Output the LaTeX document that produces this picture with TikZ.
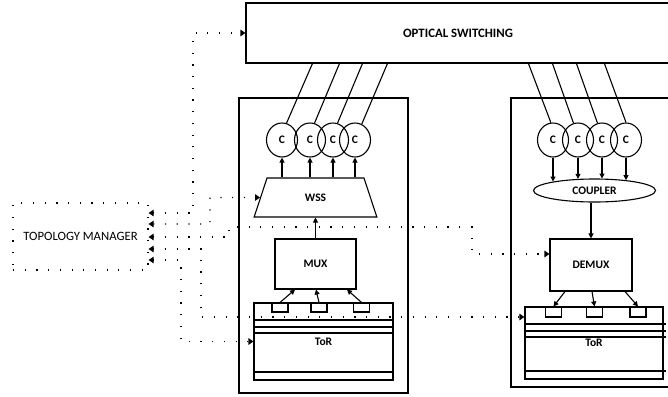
\documentclass[tikz,border=0pt]{standalone}
\usepackage{fontspec}
\setmainfont{Carlito}
\usetikzlibrary{arrows.meta,shapes.geometric,calc}

\tikzset{
  box/.style={draw, line width=1.1pt, inner sep=0pt},
  lbl/.style={font=\bfseries\fontsize{11.5}{13}\selectfont},
  ring/.style={draw, ellipse, line width=1.1pt, inner sep=0pt,
               minimum width=31pt, minimum height=34pt,
               font=\bfseries\fontsize{11.5}{12}\selectfont},
  port/.style={draw, line width=1.1pt, inner sep=0pt, minimum width=16pt},
  fibre/.style={line width=1.1pt},
  sig/.style={line width=1.1pt, -{Triangle[length=5pt,width=5pt]}},
  dots/.style={line width=1.15pt, dash pattern=on 1.15pt off 10.55pt},
  ctrl/.style={dots, {Triangle[length=5pt,width=6.5pt]}-{Triangle[length=5pt,width=6.5pt]}},
  layer/.style={line width=1.1pt}
}

\begin{document}
\begin{tikzpicture}[x=1pt,y=-1pt]
\useasboundingbox (0,0) rectangle (668,396);
\clip (0,0) rectangle (668,396);

% optical switching fabric
\node[box, minimum width=424pt, minimum height=60pt,
      font=\bfseries\fontsize{12.8}{14}\selectfont] (sw) at (458,33) {OPTICAL SWITCHING};

% racks
\node[box, minimum width=169pt, minimum height=295pt] (rackL) at (323.5,245.5) {};
\node[box, minimum width=161pt, minimum height=289pt] (rackR) at (591.5,242.5) {};

% topology manager
\node[draw, dots, inner sep=0pt, minimum width=135pt, minimum height=67pt,
      font=\fontsize{12.7}{14}\selectfont] (mgr) at (80.5,236.5) {TOPOLOGY MANAGER};

% ---- left rack ----
\foreach \x/\i in {282/1,310/2,333/3,355/4}
  \node[ring] (cL\i) at (\x,140) {C};
\node[box, trapezium, trapezium stretches=true, minimum width=123pt, minimum height=39pt,
      trapezium left angle=69.6, trapezium right angle=69.6, lbl] (wss) at (315.5,197.5) {WSS};
\node[box, minimum width=81pt, minimum height=50pt, lbl] (mux) at (315.5,264) {MUX};
\node[box, minimum width=139pt, minimum height=77pt, lbl] (torL) at (323.5,341.5) {ToR};
\foreach \y in {320,327,333,372}
  \draw[layer] (torL.west |- 0,\y) -- (torL.east |- 0,\y);
\node[port, minimum height=9pt] (pL1) at (280,307.5) {};
\node[port, minimum height=9pt] (pL2) at (319,307.5) {};
\node[port, minimum height=9pt] (pL3) at (361.5,307.5) {};

% ---- right rack ----
\foreach \x/\i in {553/1,578/2,602/3,626/4}
  \node[ring] (cR\i) at (\x,140) {C};
\node[box, ellipse, minimum width=122pt, minimum height=23pt, lbl] (cpl) at (594.5,190.5) {COUPLER};
\node[box, minimum width=82pt, minimum height=52pt, lbl] (dmx) at (591,265) {DEMUX};
\node[box, minimum width=138pt, minimum height=72pt, lbl] (torR) at (594,343) {ToR};
\foreach \y in {324,331,337,371}
  \draw[layer] (torR.west |- 0,\y) -- (666,\y);
\node[port, minimum height=10pt] (pR1) at (553.5,312) {};
\node[port, minimum height=10pt] (pR2) at (594.5,312) {};
\node[port, minimum height=10pt] (pR3) at (638,312) {};

% fibres to the switching fabric
\draw[fibre] (cL1.75) -- ([xshift=67pt]sw.south west);
\draw[fibre] (cL2.75) -- ([xshift=94pt]sw.south west);
\draw[fibre] (cL3.75) -- ([xshift=117pt]sw.south west);
\draw[fibre] (cL4.67) -- ([xshift=142pt]sw.south west);
\draw[fibre] (cR1.97) -- ([xshift=283pt]sw.south west);
\draw[fibre] (cR2.105) -- ([xshift=307pt]sw.south west);
\draw[fibre] (cR3.105) -- ([xshift=331pt]sw.south west);
\draw[fibre] (cR4.90) -- ([xshift=359pt]sw.south west);

% transmit path
\foreach \i in {1,...,4}
  \draw[sig] (cL\i.south |- wss.north) -- (cL\i.south);
\draw[sig] (mux.north) -- (mux.north |- wss.south);
\draw[sig] (pL1.north) -- ([xshift=-20.5pt]mux.south);
\draw[sig] (pL2.north) -- ([xshift=0.5pt]mux.south);
\draw[sig] (pL3.north) -- ([xshift=31.5pt]mux.south);

% receive path
\foreach \i/\d in {1/3.1,2/0.4,3/0.1,4/1.7}
  \draw[sig] (cR\i.south) -- ($(cR\i.south |- cpl.north)+(0,\d)$);
\draw[sig] (dmx.north |- cpl.south) -- (dmx.north);
\draw[sig] ([xshift=-26pt]dmx.south) -- (pR1.north);
\draw[sig] ([xshift=1pt]dmx.south) -- (pR2.north);
\draw[sig] ([xshift=34pt]dmx.south) -- (pR3.north);

% control links of the topology manager
\coordinate (m1) at ([yshift=23.5pt]mgr.east);
\coordinate (m2) at ([yshift=12.5pt]mgr.east);
\coordinate (m3) at ([yshift=-0.5pt]mgr.east);
\coordinate (m4) at ([yshift=-12.5pt]mgr.east);
\coordinate (m5) at ([yshift=-23.5pt]mgr.east);
\draw[ctrl] (m1) -| (193,33) -- (sw.west);
\draw[ctrl] (m2) -| (210,197.5) -- (wss.west);
\draw[ctrl] (m3) -| (229,227) -| (472,254) -- ([yshift=11pt]dmx.west);
\draw[ctrl] (m4) -| (201,317) -- ([yshift=26pt]torR.west);
\draw[ctrl] (m5) -| (181,341.5) -- (torL.west);
\end{tikzpicture}
\end{document}
